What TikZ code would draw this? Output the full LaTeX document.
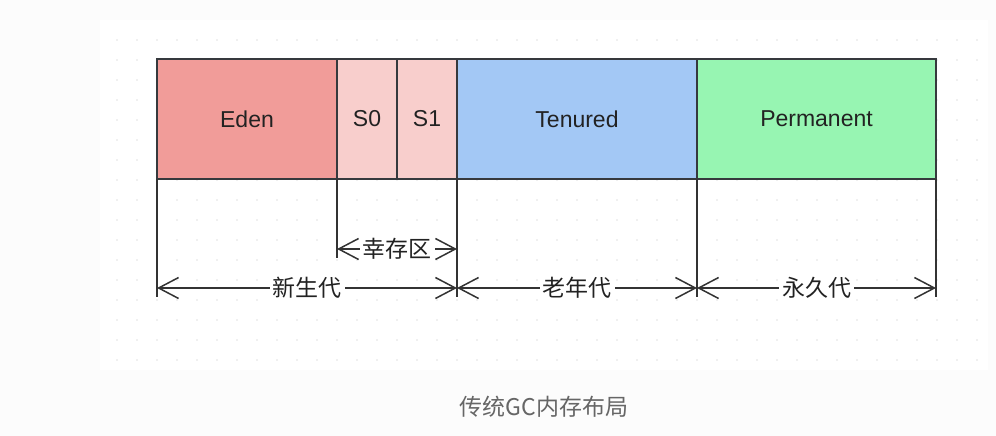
\documentclass[tikz,border=0pt]{standalone}
\usepackage{fontspec}
\setmainfont{Liberation Sans}
\newfontfamily\cjk{Noto Sans CJK SC}
\usepackage{xcolor}
\definecolor{edenred}{HTML}{F19C99}
\definecolor{survivorpink}{HTML}{F8CECC}
\definecolor{tenuredblue}{HTML}{A3C8F5}
\definecolor{permgreen}{HTML}{97F5B2}
\definecolor{edgegray}{HTML}{36393D}
\definecolor{linegray}{HTML}{333333}
\definecolor{textgray}{HTML}{222222}
\definecolor{captiongray}{HTML}{666666}
\definecolor{dotgray}{HTML}{E2E2E2}
\definecolor{pagegray}{HTML}{FCFCFC}
\usetikzlibrary{arrows.meta, positioning}

\begin{document}
\begin{tikzpicture}[
        x=1pt, y=-1pt,
        region/.style={draw=edgegray, line width=1.5pt, rectangle, minimum height=120pt, inner sep=0pt, outer sep=0pt, text=textgray, font=\fontsize{23}{23}\selectfont},
        guide/.style={line width=1.5pt, draw=linegray},
        dimline/.style={{Straight Barb[length=20pt,width=21pt]}-{Straight Barb[length=20pt,width=21pt]}, line width=1.5pt, draw=linegray},
        dimlabel/.style={font=\cjk\fontsize{23}{23}\selectfont, fill=white, inner sep=3pt, text=textgray}
    ]
        % Page and dotted canvas
        \fill[pagegray] (0,0) rectangle (996,436);
        \fill[white] (100,20) rectangle (988,370);
        \foreach \gx in {117,137,...,977}
            \foreach \gy in {40,60,...,360}
                \fill[dotgray] (\gx,\gy) circle (0.9pt);

        % Heap regions
        \node[region, fill=edenred, minimum width=180pt, anchor=north west] (eden) at (157,59) {Eden};
        \node[region, fill=survivorpink, minimum width=60pt, right=0pt of eden] (s0) {S0};
        \node[region, fill=survivorpink, minimum width=60pt, right=0pt of s0] (s1) {S1};
        \node[region, fill=tenuredblue, minimum width=240pt, right=0pt of s1] (tenured) {Tenured};
        \node[region, fill=permgreen, minimum width=239pt, right=0pt of tenured] (perm) {Permanent};

        % Guide levels
        \coordinate (survy) at (0,249);
        \coordinate (survend) at (0,258);
        \coordinate (dimy) at (0,288);
        \coordinate (lowend) at (0,297);

        % Guide lines
        \draw[guide] (eden.south west) -- (eden.south west |- lowend);
        \draw[guide] (s0.south west) -- (s0.south west |- survend);
        \draw[guide] (tenured.south west) -- (tenured.south west |- lowend);
        \draw[guide] (perm.south west) -- (perm.south west |- lowend);
        \draw[guide] (perm.south east) -- (perm.south east |- lowend);

        % Dimension arrows
        \draw[dimline] (s0.south west |- survy) -- node[dimlabel] {幸存区} (s1.south east |- survy);
        \draw[dimline] (eden.south west |- dimy) -- node[dimlabel] {新生代} (s1.south east |- dimy);
        \draw[dimline] (tenured.south west |- dimy) -- node[dimlabel] {老年代} (tenured.south east |- dimy);
        \draw[dimline] (perm.south west |- dimy) -- node[dimlabel] {永久代} (perm.south east |- dimy);

        % Caption
        \node[font=\cjk\fontsize{23}{23}\selectfont, text=captiongray] (caption) at (544,407) {传统GC内存布局};
    \end{tikzpicture}
\end{document}
